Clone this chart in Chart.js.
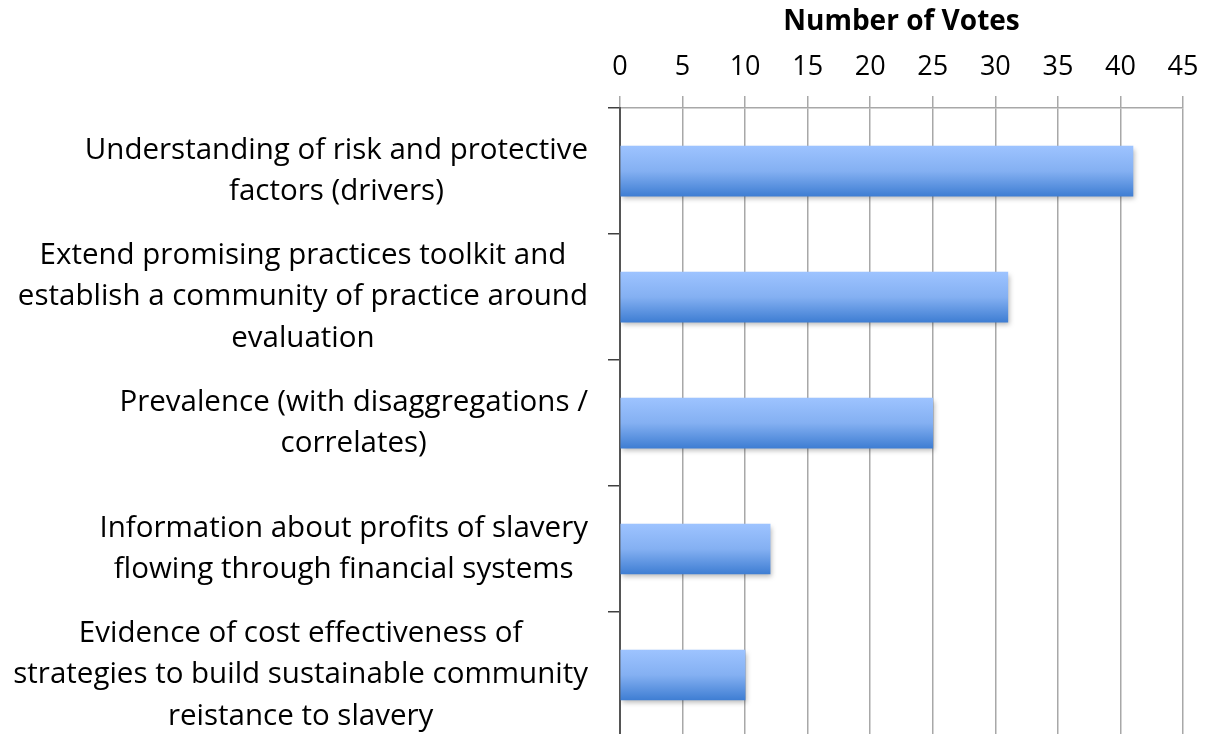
<!DOCTYPE html>
<html>
<head>
<meta charset="utf-8">
<script src="https://cdn.jsdelivr.net/npm/chart.js@4.4.1/dist/chart.umd.min.js"></script>
<style>
  html, body { margin: 0; padding: 0; background: #fff; overflow: hidden; }
  #wrap { position: relative; width: 1208px; height: 740px; }
</style>
</head>
<body>
<div id="wrap"><canvas id="votes"></canvas></div>
<script>
var labels = [
  ["Understanding of risk and protective", "factors (drivers)"],
  ["Extend promising practices toolkit and", "establish a community of practice around", "evaluation"],
  ["Prevalence (with disaggregations /", "correlates)"],
  ["Information about profits of slavery", "flowing through financial systems"],
  ["Evidence of cost effectiveness of", "strategies to build sustainable community", "reistance to slavery"],
];

var votes = [41, 31, 25, 12, 10];

var xTicks = { min: 0, max: 45, step: 5 };

var font = "'Open Sans', sans-serif";
var labelFont = "29.5px 'Open Sans', sans-serif";
var labelLine = 41.5;

function barFill(context) {
  var chart = context.chart;
  var y = chart.scales && chart.scales.y;
  var mid = y ? y.getPixelForValue(context.dataIndex) : NaN;
  if (!isFinite(mid)) return "#7aa8ec";
  var g = chart.ctx.createLinearGradient(0, mid - 25, 0, mid + 25);
  g.addColorStop(0, "#9dc3ff");
  g.addColorStop(0.5, "#84b0f2");
  g.addColorStop(1, "#3f7ed3");
  return g;
}

// soft shadow under the bars
var barShadow = {
  id: "barShadow",
  beforeDatasetsDraw: function (chart) {
    var c = chart.ctx;
    c.save();
    c.shadowColor = "rgba(0,0,0,0.28)";
    c.shadowBlur = 5;
    c.shadowOffsetX = 2;
    c.shadowOffsetY = 3;
  },
  afterDatasetsDraw: function (chart) {
    chart.ctx.restore();
  },
};

// category labels: each block right-aligned, its lines centred within the block
var blockLabels = {
  id: "blockLabels",
  afterDraw: function (chart) {
    var c = chart.ctx;
    var y = chart.scales.y;
    var right = y.right - 32;
    c.save();
    c.font = labelFont;
    c.fillStyle = "#000";
    c.textAlign = "center";
    c.textBaseline = "middle";
    labels.forEach(function (lines, i) {
      var w = 0;
      lines.forEach(function (l) { w = Math.max(w, c.measureText(l).width); });
      var cx = right - w / 2;
      var cy = y.getPixelForTick(i);
      var top = cy - (lines.length - 1) * labelLine / 2;
      lines.forEach(function (l, k) {
        c.fillText(l, cx, top + k * labelLine);
      });
    });
    c.restore();
  },
};

var ctx = document.getElementById("votes");
new Chart(ctx, {
  type: "bar",
  data: {
    labels: labels,
    datasets: [
      {
        data: votes,
        backgroundColor: barFill,
        borderWidth: 0,
        barThickness: 50,
      },
    ],
  },
  plugins: [barShadow, blockLabels],
  options: {
    indexAxis: "y",
    responsive: true,
    maintainAspectRatio: false,
    animation: false,
    layout: { padding: { top: 7, right: 25, bottom: 2, left: 0 } },
    plugins: {
      legend: { display: false },
      tooltip: { enabled: false },
    },
    scales: {
      x: {
        position: "top",
        min: xTicks.min,
        max: xTicks.max,
        ticks: {
          stepSize: xTicks.step,
          color: "#000",
          font: { family: font, size: 27, lineHeight: 0.9 },
          padding: 17,
          maxRotation: 0,
        },
        grid: {
          color: "#a8a8a8",
          lineWidth: 1.5,
          tickLength: 12,
        },
        border: { color: "#a8a8a8", width: 1.5 },
        title: {
          display: true,
          text: "Number of Votes",
          color: "#000",
          font: { family: font, size: 28, weight: "bold", lineHeight: 1.1 },
          padding: { top: 0, bottom: 0 },
        },
        afterFit: function (scale) {
          scale.paddingRight = 0;
        },
      },
      y: {
        ticks: {
          display: false,
        },
        grid: {
          drawOnChartArea: false,
          color: "#404040",
          lineWidth: 1.5,
          tickLength: 12,
          offset: true,
        },
        border: { color: "#555", width: 2 },
        afterFit: function (scale) {
          scale.width = 620;
          scale.paddingTop = 0;
          scale.paddingBottom = 0;
        },
      },
    },
  },
});
</script>
</body>
</html>
